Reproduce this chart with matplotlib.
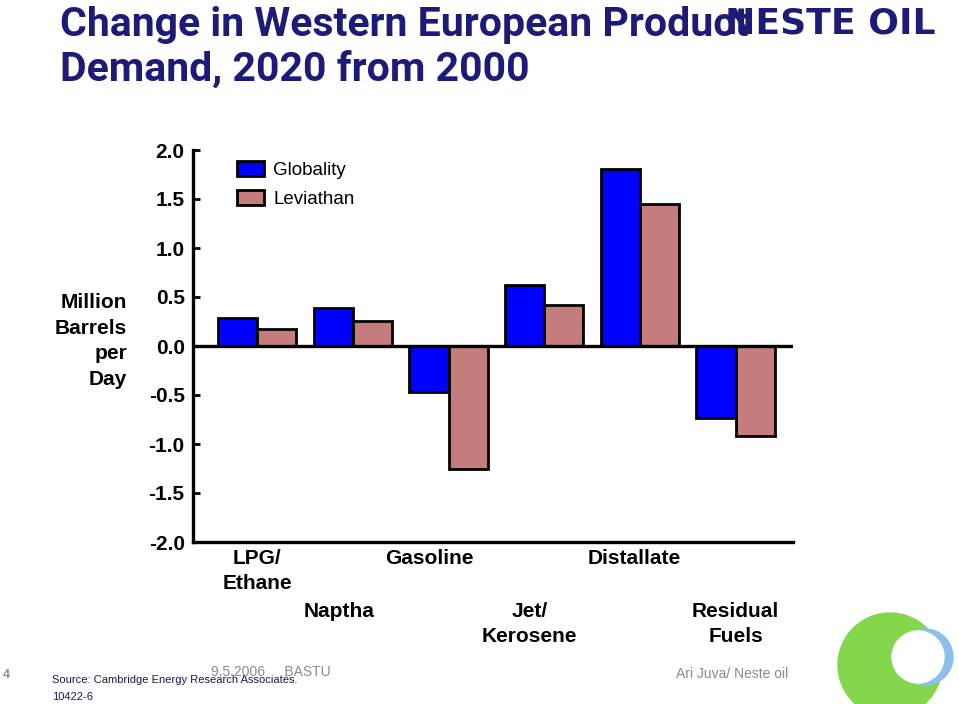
"""
Slide chart: change in Western European product demand, 2020 vs 2000.
"""

import matplotlib
import numpy as np

matplotlib.use("Agg")  # headless
import matplotlib.pyplot as plt
from matplotlib.patches import Circle, Patch

plt.rcParams["font.family"] = ["Liberation Sans", "DejaVu Sans"]

CATEGORIES = ["LPG/\nEthane", "Naptha", "Gasoline", "Jet/\nKerosene", "Distallate", "Residual\nFuels"]
GLOBALITY = [0.29, 0.385, -0.465, 0.62, 1.81, -0.735]
LEVIATHAN = [0.173, 0.255, -1.25, 0.42, 1.45, -0.915]
YTICKS = [-2.0, -1.5, -1.0, -0.5, 0.0, 0.5, 1.0, 1.5, 2.0]

NAVY = "#1c1c78"
BLUE = "#0000ff"
PINK = "#c47c7c"
GREY = "#8a8a8a"

W, H = 959, 704


def px(x, y):
    """pixel position (top-left origin) -> figure fraction"""
    return x / W, 1 - y / H


fig = plt.figure(figsize=(W / 100, H / 100), dpi=100)
fig.patch.set_facecolor("white")

# plot area
l, t = px(193, 150)
r, b = px(793, 542)
ax = fig.add_axes([l, b, r - l, t - b])

x = np.arange(len(CATEGORIES))
width = 0.41
ax.bar(x - width / 2, GLOBALITY, width, color=BLUE, edgecolor="black", linewidth=2.0,
       label="Globality", zorder=3)
ax.bar(x + width / 2, LEVIATHAN, width, color=PINK, edgecolor="black", linewidth=2.0,
       label="Leviathan", zorder=3)
ax.axhline(0, color="black", linewidth=2.4, zorder=4)

ax.set_xlim(-0.67, 5.6)
ax.set_ylim(-2.0, 2.0)
ax.set_yticks(YTICKS)
ax.set_yticklabels([f"{v:.1f}" for v in YTICKS], fontsize=15, fontweight="bold")
ax.tick_params(axis="y", direction="in", length=5, width=2, pad=6)
ax.set_xticks([])
ax.spines["top"].set_visible(False)
ax.spines["right"].set_visible(False)
ax.spines["left"].set_linewidth(2.4)
ax.spines["bottom"].set_linewidth(2.4)

# staggered category labels
label_shift = [0.0, -0.14, -0.2, -0.15, -0.06, 0.0]
for i, (cat, dx) in enumerate(zip(CATEGORIES, label_shift)):
    dy = -5 if i % 2 == 0 else -43
    ax.annotate(cat, xy=(x[i] + dx, 0), xycoords=("data", "axes fraction"),
                xytext=(0, dy), textcoords="offset points",
                ha="center", va="top", fontsize=15, fontweight="bold",
                multialignment="center", linespacing=1.4, annotation_clip=False)

handles = [Patch(facecolor=BLUE, edgecolor="black", linewidth=2.0),
           Patch(facecolor=PINK, edgecolor="black", linewidth=2.0)]
ax.legend(handles, ["Globality", "Leviathan"], loc="upper left",
          bbox_to_anchor=(0.045, 1.015), frameon=False, fontsize=13.5,
          handlelength=1.45, handleheight=0.85, labelspacing=0.6, handletextpad=0.5)

# y axis label
fig.text(*px(127, 341), "Million\nBarrels\nper\nDay", ha="right", va="center",
         multialignment="right", fontsize=15, fontweight="bold", linespacing=1.45)

# title
title_font = ["Roboto", "Liberation Sans"]
fig.text(*px(60, 36), "Change in Western European Product", ha="left", va="baseline",
         fontsize=29.5, fontweight="bold", color=NAVY, family=title_font)
fig.text(*px(60, 81), "Demand, 2020 from 2000", ha="left", va="baseline",
         fontsize=29.5, fontweight="bold", color=NAVY, family=title_font)

# logo text (sits over the end of the title, as on the slide)
fig.text(*px(725, 33), "NESTE OIL", ha="left", va="baseline", fontsize=26,
         fontweight="bold", color=NAVY, family=["DejaVu Sans"])

# footer
fig.text(*px(3, 675), "4", ha="left", va="center", fontsize=9, fontweight="bold", color=GREY)
fig.text(*px(52, 680), "Source: Cambridge Energy Research Associates.", ha="left", va="center",
         fontsize=8, color="#1a1a50")
fig.text(*px(52, 697), "10422-6", ha="left", va="center", fontsize=8, color="#1a1a50")
fig.text(*px(211, 672), "9.5.2006     BASTU", ha="left", va="center", fontsize=10, color=GREY)
fig.text(*px(676, 674), "Ari Juva/ Neste oil", ha="left", va="center", fontsize=10, color=GREY)

# round logo, bottom right
lax = fig.add_axes([820 / W, 0, 139 / W, 104 / H])
lax.set_xlim(820, 959)
lax.set_ylim(704, 600)
lax.set_aspect("equal")
lax.axis("off")
lax.add_patch(Circle((890, 665), 52, color="#84d64c"))
lax.add_patch(Circle((925, 657), 28, color="#8cc0e8"))
lax.add_patch(Circle((918, 657), 26, color="white"))

plt.savefig("out.png", dpi=100)
plt.close()
print("saved out.png")
